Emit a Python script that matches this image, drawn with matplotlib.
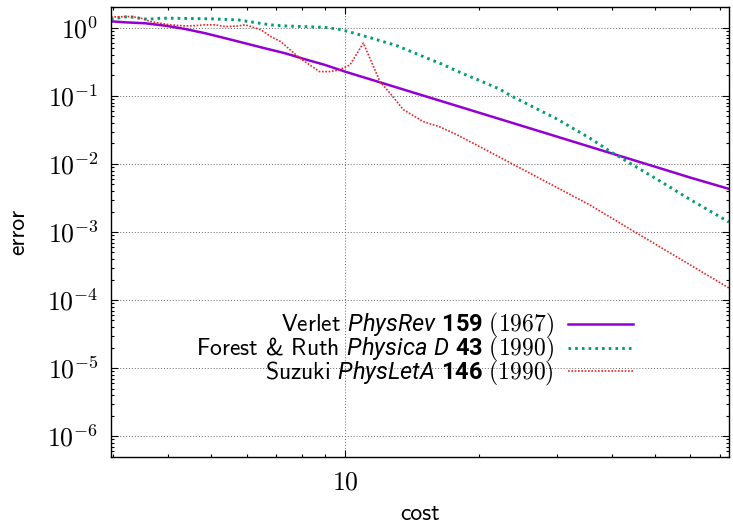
import numpy as np
import matplotlib
matplotlib.use("Agg")
import matplotlib.pyplot as plt
from matplotlib.ticker import LogLocator, FuncFormatter, NullFormatter, FixedLocator

plt.rcParams['mathtext.fontset'] = 'cm'
# fonts used by the legend labels (custom math fontset)
plt.rcParams['mathtext.rm'] = 'cmss10'
plt.rcParams['mathtext.tt'] = 'cmr10'
plt.rcParams['mathtext.it'] = 'Roboto:italic'
plt.rcParams['mathtext.bf'] = 'Roboto:bold'

# Verlet PhysRev 159 (1967)
verlet_cost = [2.97, 3.19, 3.55, 3.93, 4.36, 4.84, 5.37, 5.95, 6.6, 7.32, 8.12, 9.01, 10.0,
               20.0, 30.0, 40.0, 50.0, 60.0, 73.3]
verlet_err = [1.25, 1.21, 1.17, 1.08, 0.966, 0.836, 0.706, 0.596, 0.502, 0.425, 0.347, 0.286, 0.228,
              0.057, 0.0253, 0.0142, 0.0091, 0.0063, 0.0043]

# Forest & Ruth Physica D 43 (1990)
forest_cost = [2.97, 3.24, 3.59, 3.84, 4.04, 5.0, 5.75, 6.27, 6.81, 7.32, 8.12, 9.01, 9.66, 10.0,
               11.38, 13.07, 15.0, 16.6, 18.4, 20.4, 22.3, 23.7, 30.0, 35.6, 39.9, 50.8, 53.0,
               60.2, 73.3]
forest_err = [1.35, 1.47, 1.34, 1.39, 1.39, 1.36, 1.31, 1.20, 1.107, 1.07, 1.045, 1.02, 0.957, 0.91,
              0.72, 0.55, 0.38, 0.29, 0.214, 0.162, 0.126, 0.10, 0.046, 0.024, 0.0148, 0.0058, 0.0049,
              0.00295, 0.0014]

# Suzuki PhysLetA 146 (1990)
suzuki_cost = [2.97, 3.3, 3.47, 3.65, 3.84, 4.04, 4.36, 4.59, 4.84, 5.10, 5.37, 5.75, 5.95, 6.15,
               6.47, 6.81, 7.16, 7.53, 7.92, 8.33, 8.76, 9.22, 9.70, 10.26, 11.0, 11.99, 12.63,
               13.53, 15.01, 16.37, 17.85, 21.2, 23.7, 35.6, 45.0, 73.3]
suzuki_err = [1.45, 1.47, 1.39, 1.24, 1.17, 1.11, 1.07, 1.08, 1.11, 1.11, 1.045, 1.07, 1.11, 1.045,
              0.935, 0.745, 0.63, 0.474, 0.358, 0.286, 0.228, 0.228, 0.241, 0.286, 0.60, 0.162, 0.11,
              0.063, 0.042, 0.035, 0.027, 0.015, 0.0102, 0.0025, 0.001, 0.00015]

labels = [
    r'Verlet $\mathit{PhysRev}\ \mathbf{159}\ \mathtt{(1967)}$',
    r'Forest & Ruth $\mathit{Physica}\ \mathit{D}\ \mathbf{43}\ \mathtt{(1990)}$',
    r'Suzuki $\mathit{PhysLetA}\ \mathbf{146}\ \mathtt{(1990)}$',
]

fig = plt.figure(figsize=(7.33, 5.23), dpi=100)
ax = fig.add_axes([0.1514, 0.1271, 0.8431, 0.8595])

ax.plot(verlet_cost, verlet_err, color='#9400d3', lw=1.8, label=labels[0])
ax.plot(forest_cost, forest_err, color='#009e73', lw=2.1, linestyle=(0, (0.9, 1.4)), label=labels[1])
ax.plot(suzuki_cost, suzuki_err, color='#ee2222', lw=1.2, linestyle=(0, (1, 1)), label=labels[2])

ax.set_xscale('log')
ax.set_yscale('log')
ax.set_xlim(2.97, 73.3)
ax.set_ylim(5e-7, 2.03)

ax.xaxis.set_major_locator(FixedLocator([10]))
ax.xaxis.set_minor_locator(FixedLocator([3, 4, 5, 6, 7, 8, 9, 20, 30, 40, 50, 60, 70]))
ax.xaxis.set_major_formatter(FuncFormatter(lambda v, p: r'$10$'))
ax.xaxis.set_minor_formatter(NullFormatter())

ax.yaxis.set_major_locator(LogLocator(base=10, numticks=20))
ax.yaxis.set_minor_locator(LogLocator(base=10, subs=np.arange(2, 10), numticks=20))
ax.yaxis.set_major_formatter(FuncFormatter(lambda v, p: r'$10^{%d}$' % round(np.log10(v))))
ax.yaxis.set_minor_formatter(NullFormatter())

ax.tick_params(which='both', direction='in', top=True, right=True, width=0.8)
ax.tick_params(which='major', length=5, labelsize=18.5, pad=9)
ax.tick_params(which='minor', length=2.5)
for s in ax.spines.values():
    s.set_linewidth(1.0)

ax.grid(True, which='major', color='0.4', linestyle=(0, (1, 2)), linewidth=0.7)

ax.set_xlabel('cost', family='cmss10', fontsize=17, labelpad=6)
ax.set_ylabel('error', family='cmss10', fontsize=17, labelpad=13)

leg = ax.legend(loc='upper right', bbox_to_anchor=(0.845, 0.323), frameon=False,
                markerfirst=False, prop={'family': 'cmss10', 'size': 17},
                handlelength=2.75, handletextpad=0.6,
                labelspacing=-0.22, borderpad=0, borderaxespad=0)
for t in leg.get_texts():
    t.set_math_fontfamily('custom')

fig.savefig('out.png', dpi=100)
